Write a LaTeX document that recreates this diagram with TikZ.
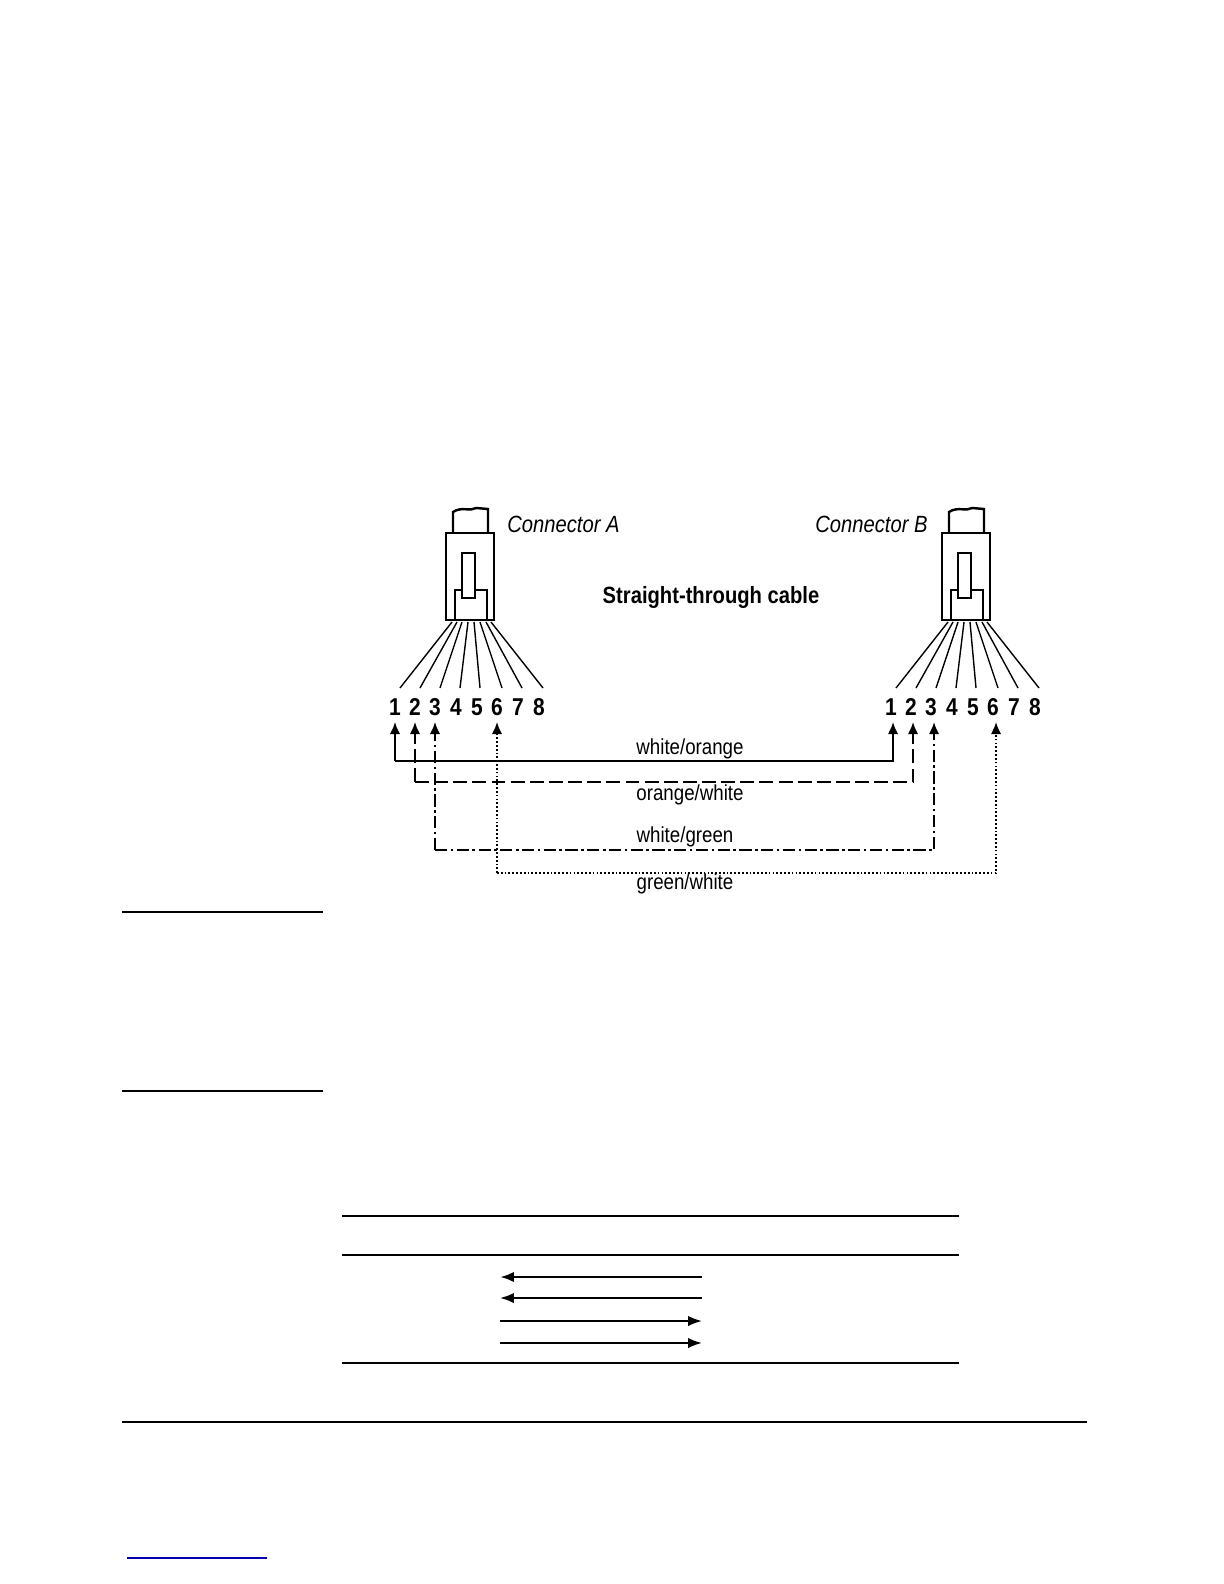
\documentclass[tikz,border=0pt]{standalone}
\usepackage{fontspec}
\setmainfont{Liberation Sans}[FakeStretch=0.86]
\usetikzlibrary{arrows.meta}
\begin{document}
\begin{tikzpicture}[x=0.0202cm,y=-0.0202cm]
\tikzstyle{pin}=[font=\bfseries\fontsize{14}{14}\selectfont,inner sep=0pt]
\tikzstyle{lbl}=[font=\fontsize{12.5}{12.5}\selectfont,inner sep=0pt]
\tikzstyle{wire}=[line width=1.1pt,-{Latex[length=7pt,width=6pt]}]
\tikzstyle{rule}=[line width=0.8pt]
\useasboundingbox (0,0) rectangle (1224,1584);
% the two plugs
\foreach \dx/\n in {0/A,496/B}{
  \begin{scope}[xshift=\dx*0.0202cm]
  \draw[line width=1.4pt] (453,533) -- (453,512) .. controls (462,506) and (470,512) .. (476,508) -- (488,509) -- (488,533);
  \draw[line width=1.6pt] (446,533) rectangle (494,620);
  \draw[line width=1.4pt] (462,553) rectangle (475,598);
  \draw[line width=1.2pt] (455,620) -- (455,590) -- (462,590) (475,590) -- (487,590) -- (487,620);
  \foreach \i/\tx/\bx in {1/452/400,2/457/420,3/462/440,4/468/460,5/474/480,6/480/502,7/486/522,8/491/543}
    \draw[line width=0.8pt] (\tx,622) -- (\bx,688);
  \foreach \i/\x in {1/395,2/415,3/435,4/456,5/477,6/497,7/518,8/539}
    \node[pin] (p\n\i) at (\x,707) {\i};
  \end{scope}}
\node[lbl,font=\itshape\fontsize{13.5}{13.5}\selectfont,anchor=west] (capA) at (507,524) {Connector A};
\node[lbl,font=\itshape\fontsize{13.5}{13.5}\selectfont,anchor=west] (capB) at (815,524) {Connector B};
\node[lbl,font=\bfseries\fontsize{13.5}{13.5}\selectfont] (title) at (711,597) {Straight-through cable};
% pairs
\coordinate (a1) at (395,761); \coordinate (b1) at (893,761);
\coordinate (a2) at (415,782); \coordinate (b2) at (913,782);
\coordinate (a3) at (435,850); \coordinate (b3) at (934,850);
\coordinate (a6) at (497,873); \coordinate (b6) at (996,873);
\draw[wire] (a1) -- (a1 |- 0,722);
\draw[wire] (a1) -- (b1) -- (b1 |- 0,722);
\draw[wire,dash pattern=on 8pt off 3pt] (a2) -- (a2 |- 0,722);
\draw[wire,dash pattern=on 8pt off 3pt] (a2) -- (b2) -- (b2 |- 0,722);
\draw[wire,dash pattern=on 7pt off 2pt on 1.5pt off 2pt] (a3) -- (a3 |- 0,722);
\draw[wire,dash pattern=on 7pt off 2pt on 1.5pt off 2pt] (a3) -- (b3) -- (b3 |- 0,722);
\draw[wire,dash pattern=on 1pt off 1.2pt] (a6) -- (a6 |- 0,722);
\draw[wire,dash pattern=on 1pt off 1.2pt] (a6) -- (b6) -- (b6 |- 0,722);
\node[lbl] (wo) at (690,749) {white/orange};
\node[lbl] (ow) at (690,795) {orange/white};
\node[lbl] (wg) at (685,837) {white/green};
\node[lbl] (gw) at (685,884) {green/white};
% page rules and table
\draw[line width=1.2pt] (122,912) -- (323,912);
\draw[line width=1.2pt] (122,1091) -- (323,1091);
\draw[rule] (342,1216) -- (959,1216);
\draw[line width=1.2pt] (342,1255) -- (959,1255);
\draw[rule] (342,1363) -- (959,1363);
\draw[line width=1.6pt,-{Latex[length=8pt,width=6pt]}] (702,1277) -- (500,1277);
\draw[line width=1.2pt,-{Latex[length=8pt,width=6pt]}] (702,1298) -- (500,1298);
\draw[line width=1.2pt,-{Latex[length=8pt,width=6pt]}] (500,1321) -- (702,1321);
\draw[line width=1.2pt,-{Latex[length=8pt,width=6pt]}] (500,1343) -- (702,1343);
\draw[rule] (122,1422) -- (1087,1422);
\draw[blue!70!black,line width=0.6pt] (127,1558) -- (267,1558);
\end{tikzpicture}
\end{document}
